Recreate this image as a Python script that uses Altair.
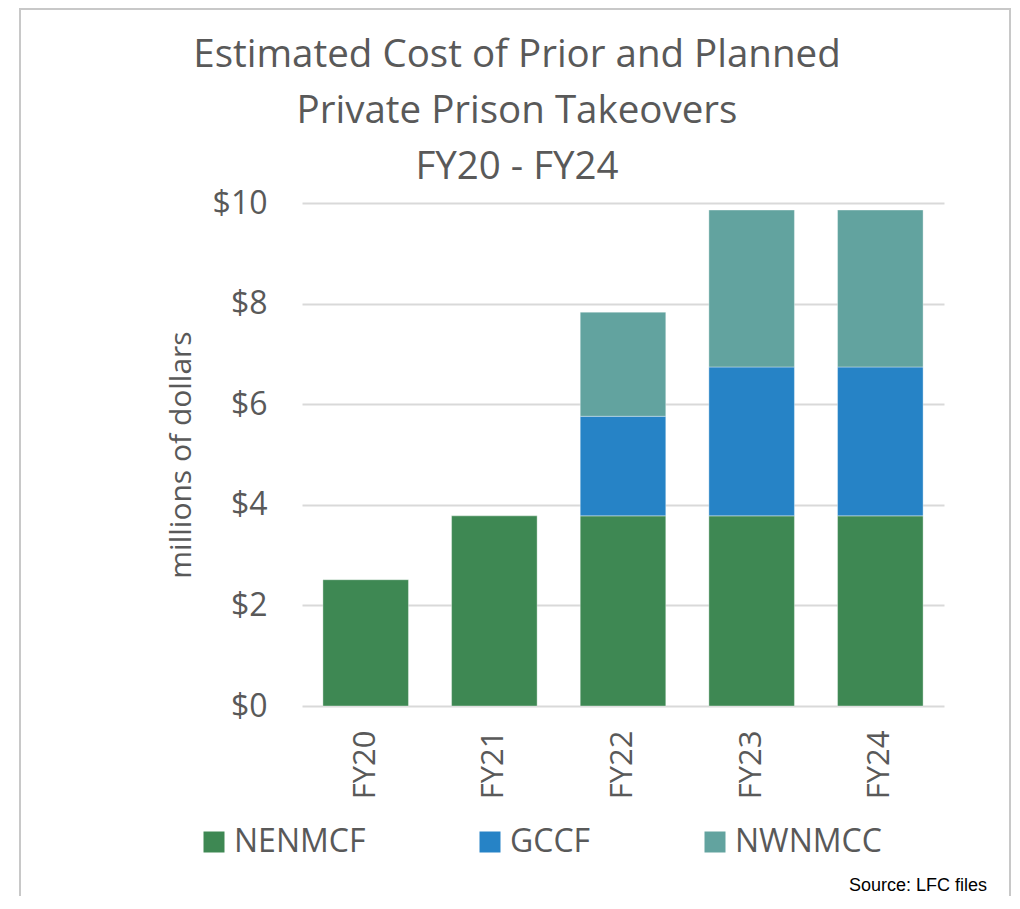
import altair as alt
import pandas as pd

years = ["FY20", "FY21", "FY22", "FY23", "FY24"]
series = ["NENMCF", "GCCF", "NWNMCC"]
nenmcf = [2.51, 3.78, 3.78, 3.78, 3.78]
gccf = [0.0, 0.0, 1.98, 2.96, 2.96]
nwnmcc = [0.0, 0.0, 2.07, 3.12, 3.12]
colors = ["#3E8853", "#2683C6", "#62A39F"]
y_ticks = [0, 2, 4, 6, 8, 10]
title_lines = ["Estimated Cost of Prior and Planned", "Private Prison Takeovers", "FY20 - FY24"]
source_note = "Source: LFC files"

rows = []
for name, vals in zip(series, [nenmcf, gccf, nwnmcc]):
    for yr, v in zip(years, vals):
        if v > 0:
            rows.append({"year": yr, "facility": name, "value": v, "order": series.index(name)})
df = pd.DataFrame(rows)

FONT = "Open Sans"
GREY = "#595959"

bars = alt.Chart(df).mark_bar(stroke="white", strokeWidth=0.8, strokeOpacity=0.45).encode(
    x=alt.X("year:N", sort=years,
            scale=alt.Scale(paddingInner=0.335, paddingOuter=0.1625),
            axis=alt.Axis(title=None, labelAngle=-90, labelFontSize=31, labelColor=GREY,
                          labelFont=FONT, labelPadding=24, domain=False, ticks=False, grid=False)),
    y=alt.Y("value:Q", stack="zero",
            scale=alt.Scale(domain=[0, 10], nice=False),
            axis=alt.Axis(title="millions of dollars", titleFontSize=30, titleFont=FONT,
                          titleColor=GREY, titleFontWeight="normal", titlePadding=16,
                          values=y_ticks, labelExpr="'$' + datum.value",
                          labelFontSize=32, labelFont=FONT, labelColor=GREY, labelPadding=35,
                          domain=False, ticks=False, gridColor="#d9d9d9", gridWidth=2)),
    color=alt.Color("facility:N", sort=series,
                    scale=alt.Scale(domain=series, range=colors),
                    legend=alt.Legend(title=None, orient="none", direction="horizontal",
                                      legendX=-104, legendY=623,
                                      symbolType="square", symbolSize=441, symbolStrokeWidth=0,
                                      symbolOpacity=1,
                                      labelFontSize=32, labelFont=FONT, labelColor=GREY,
                                      labelOffset=4, columnPadding=108, padding=0)),
    order=alt.Order("order:Q", sort="ascending"),
)

title = alt.Chart(pd.DataFrame({"t": [0]})).mark_text(
    text=title_lines, align="center", baseline="alphabetic", lineHeight=56,
    font=FONT, fontSize=38.5, color=GREY
).encode(x=alt.value(215), y=alt.value(-136))

note = alt.Chart(pd.DataFrame({"t": [source_note]})).mark_text(
    align="right", baseline="alphabetic", font="Liberation Sans", fontSize=18, color="black"
).encode(text="t:N", x=alt.value(685), y=alt.value(688))

frame = alt.Chart(pd.DataFrame({"t": [0]})).mark_rect(
    fill=None, fillOpacity=0, stroke="#c8c8c8", strokeWidth=2
).encode(x=alt.value(-282), x2=alt.value(708), y=alt.value(-194), y2=alt.value(900))

chart = alt.layer(frame, bars, title, note).properties(
    width=642, height=503,
    padding={"left": 294, "top": 195, "right": 68, "bottom": 190},
    autosize=alt.AutoSizeParams(type="none"),
).configure_view(stroke=None)

chart.save("out.html", embed_options={"renderer": "svg", "actions": False})
